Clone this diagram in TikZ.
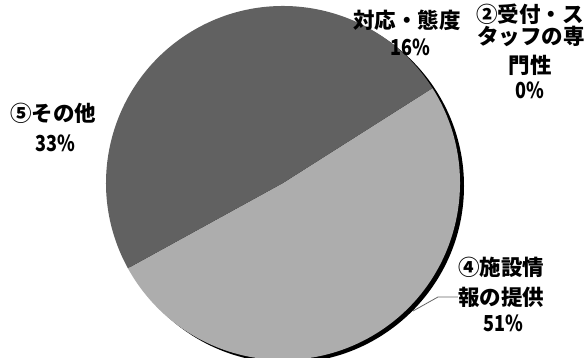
\documentclass[tikz,border=0pt]{standalone}
\usepackage{fontspec}
\usetikzlibrary{calc}
\newfontfamily\jp{Noto Sans CJK JP}
\newcommand{\pctxt}[1]{\scalebox{0.82}[1]{#1}}
\begin{document}
\begin{tikzpicture}[x=1pt,y=1pt,
  lab/.style={font=\jp\bfseries\fontsize{21.5}{21.5}\selectfont, inner sep=0pt, anchor=center},
  pct/.style={font=\jp\bfseries\fontsize{22}{22}\selectfont, inner sep=0pt, anchor=center},
  leader/.style={draw=black!60, line width=0.8pt}]
\useasboundingbox (0,0) rectangle (584,358);
\fill[white] (0,0) rectangle (584,358);
\coordinate (c) at (283,175);
% shadow
\fill[black] ($(c)+(4,-3)$) circle (177);
% slices
\fill[black!32] (c) -- ++(32.4:177) arc (32.4:-151.2:177) -- cycle;
\fill[black!62] (c) -- ++(32.4:177) arc (32.4:208.8:177) -- cycle;
% labels
\node[lab] (l5) at (53,245) {⑤その他};
\node[pct] (p5) at (55,215) {\pctxt{33\%}};
\node[lab] (l3) at (407,338) {対応・態度};
\node[pct] (p3) at (410,311) {\pctxt{16\%}};
\node[lab] (l2a) at (530,344) {②受付・ス};
\node[lab] (l2b) at (531,322) {タッフの専};
\node[lab] (l2c) at (530,293) {門性};
\node[pct] (p2) at (530,268) {\pctxt{0\%}};
\node[lab] (l4a) at (501,91) {④施設情};
\node[lab] (l4b) at (501,61) {報の提供};
\node[pct] (p4) at (503,35) {\pctxt{51\%}};
\coordinate (e4) at (413,47);
\coordinate (k4) at (438,61);
\draw[leader] (e4) -- (k4) -- (l4b.west);
\end{tikzpicture}
\end{document}
